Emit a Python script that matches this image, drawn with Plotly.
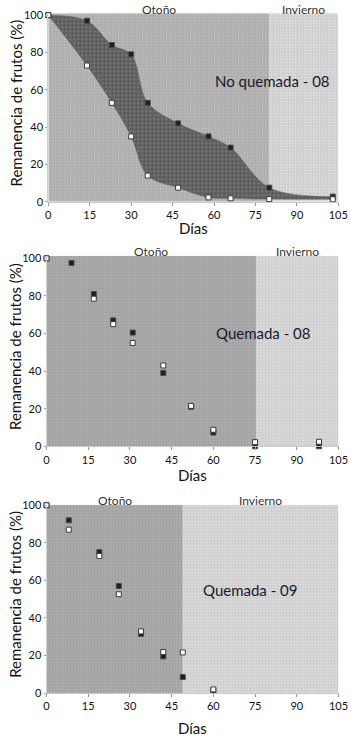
import plotly.graph_objects as go

# ---------------- data ----------------
x_ticks = [0, 15, 30, 45, 60, 75, 90, 105]
y_ticks = [0, 20, 40, 60, 80, 100]
season_names = ["Otoño", "Invierno"]

# Panel 1: No quemada - 08
dias_nq08 = [0, 14, 23, 30, 36, 47, 58, 66, 80, 103]
negro_nq08 = [100, 97, 84, 79, 53, 42, 35, 29, 7.5, 2.7]
blanco_nq08 = [100, 73, 53, 35, 14, 7.5, 2.3, 1.8, 1.4, 1.3]
otono_fin_nq08 = 80

# Panel 2: Quemada - 08
dias_q08 = [0, 9, 17, 24, 31, 42, 52, 60, 75, 98]
negro_q08 = [100, 97.5, 81, 67, 60.5, 39, 21, 7.3, 0, 0]
blanco_q08 = [100, None, 78.5, 65, 55, 43, 21.5, 8.8, 2.2, 2.4]
otono_fin_q08 = 75.5

# Panel 3: Quemada - 09
dias_q09 = [0, 8, 19, 26, 34, 42, 49, 60]
negro_q09 = [100, 92, 75, 57, 31.5, 19.5, 8.5, 1.2]
blanco_q09 = [100, 87, 73, 52.6, 32.8, 21.8, 21.6, 1.9]
otono_fin_q09 = 49

fin_dias = 105

W, H = 351, 741
FONT = "Lato"

panels = [
    dict(d=dias_nq08, n=negro_nq08, b=blanco_nq08, oto=otono_fin_nq08,
         label="No quemada - 08", lxy=(81, 64.5), env=True,
         xpx=(48.3, 338.3), ypx=(13.3, 201.7), ymax=101,
         otono_bg="#a9a9a9", otono_fg="#c6c6c6", dias_y=228),
    dict(d=dias_q08, n=negro_q08, b=blanco_q08, oto=otono_fin_q08,
         label="Quemada - 08", lxy=(78, 60.4), env=False,
         xpx=(46.5, 338.5), ypx=(255.7, 446.3), ymax=101.4,
         otono_bg="#9d9d9d", otono_fg="#bdbdbd", dias_y=475),
    dict(d=dias_q09, n=negro_q09, b=blanco_q09, oto=otono_fin_q09,
         label="Quemada - 09", lxy=(73, 54.7), env=False,
         xpx=(46.5, 338.5), ypx=(504.7, 693), ymax=100.3,
         otono_bg="#9d9d9d", otono_fg="#bdbdbd", dias_y=728),
]

fig = go.Figure()
annotations = []
layout_axes = {}

for i, p in enumerate(panels):
    k = "" if i == 0 else str(i + 1)
    xa, ya = "x" + k, "y" + k
    ymax = p["ymax"]

    # season backgrounds
    bounds = [0, p["oto"], fin_dias]
    styles = [(p["otono_bg"], p["otono_fg"]), ("#c9c9c9", "#ebebeb")]
    for j in range(2):
        x0, x1 = bounds[j], bounds[j + 1]
        bg, fg = styles[j]
        fig.add_trace(go.Scatter(
            x=[x0, x1, x1, x0, x0], y=[0, 0, ymax, ymax, 0],
            mode="lines", fill="toself", line=dict(width=0),
            fillcolor=bg,
            fillpattern=dict(shape=".", bgcolor=bg, fgcolor=fg, size=3, solidity=0.3),
            hoverinfo="skip", showlegend=False, xaxis=xa, yaxis=ya))
        # season label
        annotations.append(dict(
            x=(x0 + x1) / 2, xref=xa, y=1 - (p["ypx"][0] - 4) / H, yref="paper",
            text=season_names[j], showarrow=False, xanchor="center", yanchor="middle",
            font=dict(family=FONT, size=12, color="#333333")))

    # envelope (panel 1)
    if p["env"]:
        fig.add_trace(go.Scatter(
            x=p["d"], y=p["b"], mode="lines",
            line=dict(width=0.5, shape="spline", smoothing=1.0, color="#5e5e5e"),
            hoverinfo="skip", showlegend=False, xaxis=xa, yaxis=ya))
        fig.add_trace(go.Scatter(
            x=p["d"], y=p["n"], mode="lines", fill="tonexty",
            line=dict(width=0.5, shape="spline", smoothing=1.0, color="#5e5e5e"),
            fillcolor="#5e5e5e",
            fillpattern=dict(shape=".", bgcolor="#5e5e5e", fgcolor="#929292", size=4, solidity=0.15),
            hoverinfo="skip", showlegend=False, xaxis=xa, yaxis=ya))

    # markers
    fig.add_trace(go.Scatter(
        x=p["d"], y=p["n"], mode="markers", cliponaxis=False,
        marker=dict(symbol="square", size=5, color="#1e1e1e",
                    line=dict(color="#4a4a4a", width=1)),
        showlegend=False, xaxis=xa, yaxis=ya))
    fig.add_trace(go.Scatter(
        x=p["d"], y=p["b"], mode="markers", cliponaxis=False,
        marker=dict(symbol="square", size=5, color="#ffffff",
                    line=dict(color="#3a3a3a", width=1)),
        showlegend=False, xaxis=xa, yaxis=ya))

    # panel label
    annotations.append(dict(
        x=p["lxy"][0], y=p["lxy"][1], xref=xa, yref=ya, text=p["label"],
        showarrow=False, xanchor="center", yanchor="middle",
        font=dict(family=FONT, size=15, color="#1a1a2a")))

    # axis titles
    yc = (p["ypx"][0] + p["ypx"][1]) / 2 - 4
    annotations.append(dict(
        x=15 / W, y=1 - yc / H, xref="paper", yref="paper",
        text="Remanencia de frutos (%)", textangle=-90, showarrow=False,
        xanchor="center", yanchor="middle",
        font=dict(family=FONT, size=15, color="#111111")))
    annotations.append(dict(
        x=(p["xpx"][0] + p["xpx"][1]) / 2 / W, y=1 - p["dias_y"] / H,
        xref="paper", yref="paper", text="Días", showarrow=False,
        xanchor="center", yanchor="middle",
        font=dict(family=FONT, size=15, color="#111111")))

    xkey = "xaxis" + k
    ykey = "yaxis" + k
    layout_axes[xkey] = dict(
        domain=[p["xpx"][0] / W, p["xpx"][1] / W], anchor=ya, automargin=False,
        range=[0, fin_dias], tickvals=x_ticks, ticks="outside", ticklen=3,
        tickcolor="#999999", showline=True, linecolor="#c8c8c8", linewidth=1,
        showgrid=False, zeroline=False,
        tickfont=dict(family=FONT, size=11, color="#111111"))
    layout_axes[ykey] = dict(
        domain=[1 - p["ypx"][1] / H, 1 - p["ypx"][0] / H], anchor=xa, automargin=False,
        range=[0, ymax], tickvals=y_ticks, ticks="outside", ticklen=2,
        tickcolor="#88aacc", showline=True, linecolor="#d0d0d0", linewidth=1,
        showgrid=False, zeroline=False,
        tickfont=dict(family=FONT, size=11, color="#111111"))

fig.update_layout(
    template="none",
    width=W, height=H, autosize=False,
    margin=dict(l=0, r=0, t=0, b=0, pad=0),
    paper_bgcolor="white", plot_bgcolor="white",
    annotations=annotations, showlegend=False,
    **layout_axes)

fig.write_html("out.html", config={"displayModeBar": False},
               post_script="document.body.style.margin='0';document.body.style.overflow='hidden';")
